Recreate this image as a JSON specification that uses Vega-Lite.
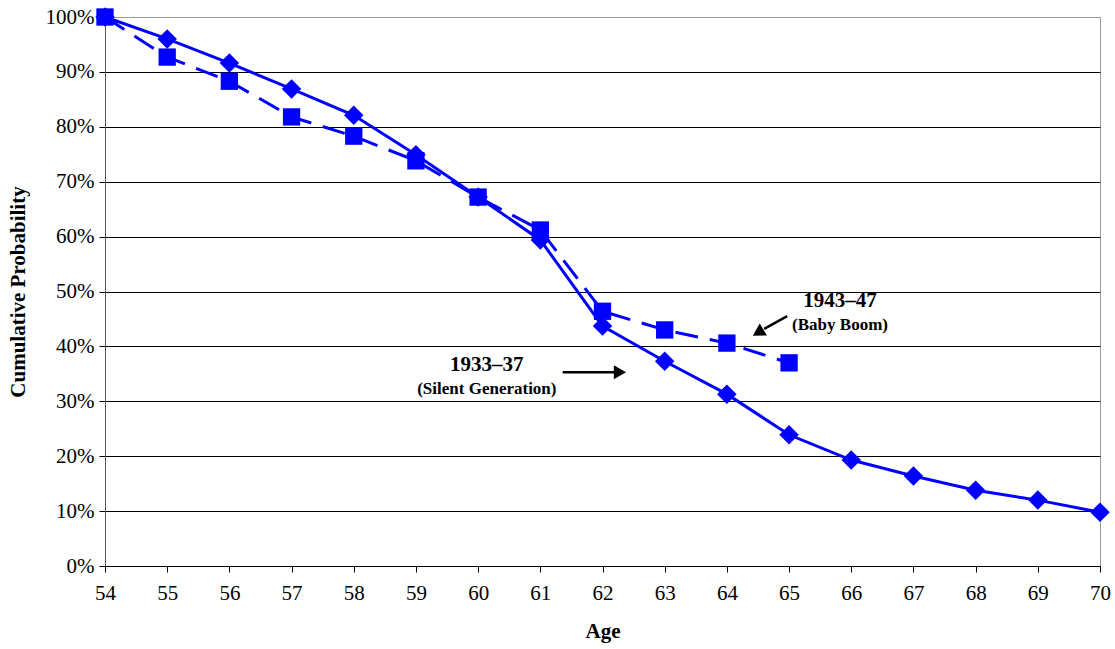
{
  "$schema": "https://vega.github.io/schema/vega-lite/v6.json",
  "width": 995,
  "height": 549,
  "autosize": "none",
  "padding": {"left": 105, "top": 17, "right": 15, "bottom": 83},
  "background": "white",
  "config": {
    "view": {"stroke": "#9a9a9a", "strokeWidth": 1},
    "font": "Liberation Serif",
    "axis": {
      "labelFont": "Liberation Serif",
      "titleFont": "Liberation Serif",
      "labelFontSize": 21,
      "titleFontSize": 21,
      "labelColor": "#000",
      "titleColor": "#000",
      "titleFontWeight": "bold",
      "tickColor": "#000",
      "domainColor": "#555",
      "labelFlush": false,
      "labelOverlap": false
    }
  },
  "datasets": {
    "series": [
      {"age": 54, "p": 100, "cohort": "1933–37"},
      {"age": 55, "p": 96.0, "cohort": "1933–37"},
      {"age": 56, "p": 91.6, "cohort": "1933–37"},
      {"age": 57, "p": 86.9, "cohort": "1933–37"},
      {"age": 58, "p": 82.1, "cohort": "1933–37"},
      {"age": 59, "p": 74.9, "cohort": "1933–37"},
      {"age": 60, "p": 67.2, "cohort": "1933–37"},
      {"age": 61, "p": 59.4, "cohort": "1933–37"},
      {"age": 62, "p": 43.7, "cohort": "1933–37"},
      {"age": 63, "p": 37.3, "cohort": "1933–37"},
      {"age": 64, "p": 31.3, "cohort": "1933–37"},
      {"age": 65, "p": 23.9, "cohort": "1933–37"},
      {"age": 66, "p": 19.3, "cohort": "1933–37"},
      {"age": 67, "p": 16.4, "cohort": "1933–37"},
      {"age": 68, "p": 13.8, "cohort": "1933–37"},
      {"age": 69, "p": 12.0, "cohort": "1933–37"},
      {"age": 70, "p": 9.8, "cohort": "1933–37"},
      {"age": 54, "p": 100, "cohort": "1943–47"},
      {"age": 55, "p": 92.7, "cohort": "1943–47"},
      {"age": 56, "p": 88.3, "cohort": "1943–47"},
      {"age": 57, "p": 81.8, "cohort": "1943–47"},
      {"age": 58, "p": 78.3, "cohort": "1943–47"},
      {"age": 59, "p": 73.8, "cohort": "1943–47"},
      {"age": 60, "p": 67.2, "cohort": "1943–47"},
      {"age": 61, "p": 61.2, "cohort": "1943–47"},
      {"age": 62, "p": 46.4, "cohort": "1943–47"},
      {"age": 63, "p": 43.0, "cohort": "1943–47"},
      {"age": 64, "p": 40.6, "cohort": "1943–47"},
      {"age": 65, "p": 37.0, "cohort": "1943–47"}
    ],
    "titles": [
      {"age": 60.14, "p": 36.6, "label": "1933–37"},
      {"age": 65.82, "p": 48.3, "label": "1943–47"}
    ],
    "subtitles": [
      {"age": 60.14, "p": 32.2, "label": "(Silent Generation)"},
      {"age": 65.82, "p": 43.9, "label": "(Baby Boom)"}
    ],
    "shafts": [
      {"age": 61.36, "p": 35.3, "age2": 62.2, "p2": 35.3},
      {"age": 64.97, "p": 45.5, "age2": 64.6, "p2": 43.2}
    ],
    "headRight": [{"age": 62.28, "p": 35.3}],
    "headDiag": [{"age": 64.53, "p": 42.7}]
  },
  "layer": [
    {
      "data": {"name": "series"},
      "transform": [{"filter": "datum.cohort === '1933–37'"}],
      "mark": {"type": "line", "color": "#0000FF", "strokeWidth": 3},
      "encoding": {
        "x": {
          "field": "age", "type": "quantitative",
          "scale": {"domain": [54, 70], "nice": false, "zero": false},
          "axis": {
            "title": "Age", "values": [54,55,56,57,58,59,60,61,62,63,64,65,66,67,68,69,70],
            "grid": false, "tickSize": 6, "labelPadding": 10, "titlePadding": 17,
            "domainColor": "#000", "format": "d"
          }
        },
        "y": {
          "field": "p", "type": "quantitative",
          "scale": {"domain": [0, 100], "nice": false},
          "axis": {
            "title": "Cumulative Probability",
            "values": [0,10,20,30,40,50,60,70,80,90,100],
            "labelExpr": "datum.value + '%'",
            "grid": true,
            "gridColor": {"condition": {"test": "datum.value === 100", "value": "#9a9a9a"}, "value": "#000"},
            "gridWidth": 1,
            "tickSize": 6, "labelPadding": 5, "titlePadding": 17
          }
        }
      }
    },
    {
      "data": {"name": "series"},
      "transform": [{"filter": "datum.cohort === '1933–37'"}],
      "mark": {"type": "point", "shape": "diamond", "filled": true, "color": "#0000FF", "size": 380, "opacity": 1},
      "encoding": {
        "x": {"field": "age", "type": "quantitative"},
        "y": {"field": "p", "type": "quantitative"}
      }
    },
    {
      "data": {"name": "series"},
      "transform": [{"filter": "datum.cohort === '1943–47'"}],
      "mark": {"type": "line", "color": "#0000FF", "strokeWidth": 3, "strokeDash": [23, 12]},
      "encoding": {
        "x": {"field": "age", "type": "quantitative"},
        "y": {"field": "p", "type": "quantitative"}
      }
    },
    {
      "data": {"name": "series"},
      "transform": [{"filter": "datum.cohort === '1943–47'"}],
      "mark": {"type": "square", "filled": true, "color": "#0000FF", "size": 300, "opacity": 1},
      "encoding": {
        "x": {"field": "age", "type": "quantitative"},
        "y": {"field": "p", "type": "quantitative"}
      }
    },
    {
      "data": {"name": "titles"},
      "mark": {"type": "text", "font": "Liberation Serif", "fontSize": 21, "fontWeight": "bold", "color": "#000", "align": "center", "baseline": "middle"},
      "encoding": {
        "x": {"field": "age", "type": "quantitative"},
        "y": {"field": "p", "type": "quantitative"},
        "text": {"field": "label"}
      }
    },
    {
      "data": {"name": "subtitles"},
      "mark": {"type": "text", "font": "Liberation Serif", "fontSize": 17, "fontWeight": "bold", "color": "#000", "align": "center", "baseline": "middle"},
      "encoding": {
        "x": {"field": "age", "type": "quantitative"},
        "y": {"field": "p", "type": "quantitative"},
        "text": {"field": "label"}
      }
    },
    {
      "data": {"name": "shafts"},
      "mark": {"type": "rule", "color": "#000", "strokeWidth": 2.5},
      "encoding": {
        "x": {"field": "age", "type": "quantitative"},
        "y": {"field": "p", "type": "quantitative"},
        "x2": {"field": "age2"},
        "y2": {"field": "p2"}
      }
    },
    {
      "data": {"name": "headRight"},
      "mark": {"type": "point", "shape": "triangle-right", "filled": true, "color": "#000", "size": 200, "opacity": 1},
      "encoding": {
        "x": {"field": "age", "type": "quantitative"},
        "y": {"field": "p", "type": "quantitative"}
      }
    },
    {
      "data": {"name": "headDiag"},
      "mark": {"type": "point", "shape": "triangle", "angle": 239, "filled": true, "color": "#000", "size": 200, "opacity": 1},
      "encoding": {
        "x": {"field": "age", "type": "quantitative"},
        "y": {"field": "p", "type": "quantitative"}
      }
    }
  ]
}
